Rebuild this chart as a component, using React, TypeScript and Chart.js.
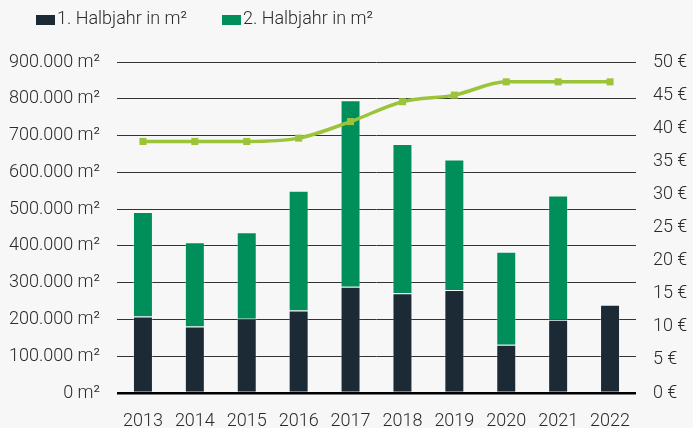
import React, { useEffect, useRef } from "react";
import { Chart, registerables } from "chart.js";

Chart.register(...registerables);

const years = ["2013", "2014", "2015", "2016", "2017", "2018", "2019", "2020", "2021", "2022"];
const firstHalf = [208000, 181000, 202000, 224000, 289000, 271000, 280000, 131000, 199000, 240000];
const secondHalf = [284000, 229000, 235000, 326000, 507000, 406000, 355000, 253000, 338000, 0];
const rentEuro = [38, 38, 38, 38.5, 41, 44, 45, 47, 47, 47];

const seriesLabels = ["1. Halbjahr in m²", "2. Halbjahr in m²"];
const FONT = "Roboto, 'Open Sans', sans-serif";
const WEIGHT = 300;
const TEXT = "#2a2a2a";

const fmtThousands = (v: number) => String(v).replace(/\B(?=(\d{3})+(?!\d))/g, ".");

const legendPlugin = {
  id: "customLegend",
  afterDraw(chart: any) {
    const ctx = chart.ctx;
    ctx.save();
    ctx.font = `${WEIGHT} 18px ${FONT}`;
    ctx.textBaseline = "middle";
    ctx.textAlign = "left";
    let x = 36;
    const y = 19;
    const bars = chart.data.datasets.filter((d: any) => d.type === "bar");
    bars.forEach((d: any) => {
      ctx.fillStyle = d.backgroundColor;
      ctx.fillRect(x, y - 4, 19, 10);
      ctx.fillStyle = TEXT;
      ctx.fillText(d.label, x + 21, y);
      x += 21 + ctx.measureText(d.label).width + 35;
    });
    ctx.restore();
  },
};

export default function App() {
  const ref = useRef<HTMLCanvasElement | null>(null);
  useEffect(() => {
    if (!ref.current) return;
    const tickFont = { family: FONT, size: 18, weight: WEIGHT as any };
    const chart = new Chart(ref.current, {
      type: "bar",
      data: {
        labels: years,
        datasets: [
          {
            type: "line",
            label: "Miete",
            data: rentEuro,
            yAxisID: "y1",
            borderColor: "#9cc43b",
            backgroundColor: "#9cc43b",
            borderWidth: 3.5,
            pointStyle: "rect",
            pointRadius: 5,
            pointBackgroundColor: "#9cc43b",
            pointBorderWidth: 0,
            cubicInterpolationMode: "monotone",
            order: 0,
          } as any,
          {
            type: "bar",
            label: seriesLabels[0],
            data: firstHalf,
            backgroundColor: "#1c2a35",
            borderColor: "rgba(255,255,255,0.25)",
            borderWidth: 1,
            stack: "s",
            yAxisID: "y",
            order: 1,
          },
          {
            type: "bar",
            label: seriesLabels[1],
            data: secondHalf,
            backgroundColor: "#008f5a",
            borderColor: "rgba(255,255,255,0.25)",
            borderWidth: 1,
            stack: "s",
            yAxisID: "y",
            order: 1,
          },
        ],
      },
      options: {
        animation: false,
        responsive: false,
        maintainAspectRatio: false,
        datasets: { bar: { barPercentage: 0.385, categoryPercentage: 1 } },
        layout: { padding: { top: 62, left: 0, right: 0, bottom: 0 } },
        plugins: { legend: { display: false }, tooltip: { enabled: false } },
        scales: {
          x: {
            stacked: true,
            grid: { display: false },
            border: { display: false },
            ticks: { color: TEXT, font: tickFont, padding: 10, maxRotation: 0 },
            afterFit: (s: any) => { s.height = 35; },
          },
          y: {
            stacked: true,
            position: "left",
            min: 0,
            max: 900000,
            border: { display: false },
            grid: {
              drawTicks: false,
              color: (c: any) => (c.tick && c.tick.value === 0 ? "#000" : "#333"),
              lineWidth: (c: any) => (c.tick && c.tick.value === 0 ? 2.5 : 1),
            },
            ticks: {
              stepSize: 100000,
              padding: 17,
              color: TEXT,
              font: tickFont,
              callback: (v: any) => `${fmtThousands(Number(v))} m²`,
            },
            afterFit: (s: any) => { s.width = 117; },
          },
          y1: {
            position: "right",
            min: 0,
            max: 50,
            border: { display: false },
            grid: { display: false, drawTicks: false },
            ticks: {
              stepSize: 5,
              padding: 17,
              color: TEXT,
              font: tickFont,
              callback: (v: any) => `${v} €`,
            },
            afterFit: (s: any) => { s.width = 57; },
          },
        },
      },
      plugins: [legendPlugin],
    });
    return () => chart.destroy();
  }, []);
  return (
    <div style={{ position: "fixed", left: 0, top: 0, width: 693, height: 428, background: "#f7f7f7" }}>
      <canvas ref={ref} width={693} height={428} style={{ display: "block" }} />
    </div>
  );
}
